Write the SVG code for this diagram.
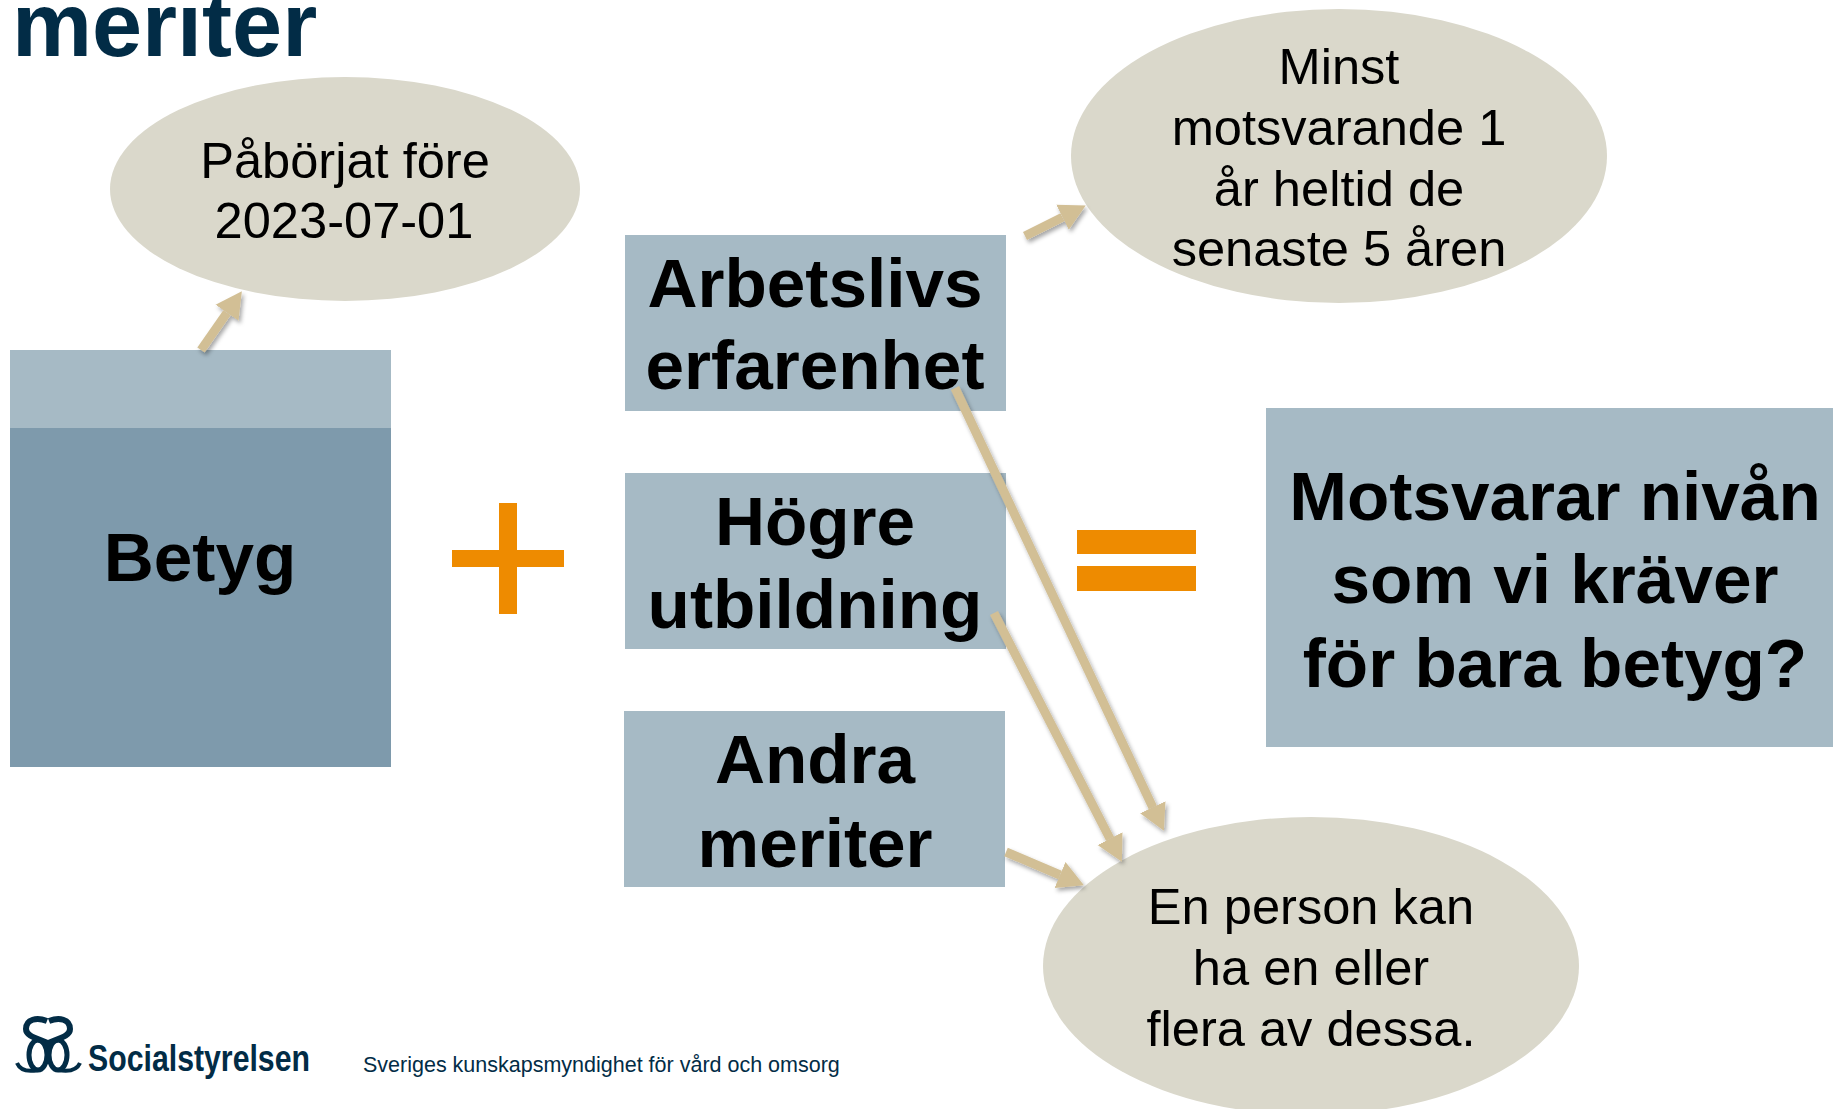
<svg xmlns="http://www.w3.org/2000/svg" width="1833" height="1109" viewBox="0 0 1833 1109">
<defs>
<style>
text{font-family:"Liberation Sans",Arial,sans-serif;text-anchor:middle}
.b{font-weight:700;font-size:69.3px;fill:#000}
.r{font-size:50.6px;fill:#000}
.box{fill:#a6bac5}
.ell{fill:#dad8cb}
.or{fill:#ee8b00}
.arrow{stroke:#d2bf95;stroke-width:9;fill:none;marker-end:url(#head);filter:url(#sh)}
</style>
<marker id="head" markerUnits="userSpaceOnUse" markerWidth="28" markerHeight="30" refX="0" refY="15" orient="auto"><path d="M0 1L26 15L0 29Z" fill="#d2bf95"/></marker>
<filter id="sh" filterUnits="userSpaceOnUse" x="0" y="0" width="1833" height="1109"><feDropShadow dx="2" dy="3" stdDeviation="2" flood-color="#000" flood-opacity=".35"/></filter>
</defs>
<rect width="1833" height="1109" fill="#fff"/>
<text id="title" x="12" y="56" style="text-anchor:start;font-weight:700;font-size:90px;fill:#022c46">meriter</text>
<g id="betyg"><rect class="box" x="10" y="350" width="381" height="78"/><rect x="10" y="428" width="381" height="339" fill="#7e9aac"/><text class="b" x="200" y="581">Betyg</text></g>
<g id="paborjat"><ellipse class="ell" cx="345" cy="189" rx="235" ry="112"/><text class="r" x="345" y="178">Påbörjat före</text><text class="r" x="344" y="238">2023-07-01</text></g>
<g id="minst"><ellipse class="ell" cx="1339" cy="156" rx="268" ry="147"/><text class="r" x="1339" y="84">Minst</text><text class="r" x="1339" y="145">motsvarande 1</text><text class="r" x="1339" y="206">år heltid de</text><text class="r" x="1339" y="266">senaste 5 åren</text></g>
<g id="person"><ellipse class="ell" cx="1311" cy="966" rx="268" ry="149"/><text class="r" x="1311" y="924">En person kan</text><text class="r" x="1311" y="985">ha en eller</text><text class="r" x="1311" y="1046">flera av dessa.</text></g>
<g id="arbetsliv"><rect class="box" x="625" y="235" width="381" height="176"/><text class="b" x="815" y="307">Arbetslivs</text><text class="b" x="815" y="389">erfarenhet</text></g>
<g id="utbildning"><rect class="box" x="625" y="473" width="381" height="176"/><text class="b" x="815" y="545">Högre</text><text class="b" x="815" y="628">utbildning</text></g>
<g id="andra"><rect class="box" x="624" y="711" width="381" height="176"/><text class="b" x="815" y="783">Andra</text><text class="b" x="815" y="867">meriter</text></g>
<g id="motsvarar"><rect class="box" x="1266" y="408" width="567" height="339"/><text class="b" x="1555" y="520">Motsvarar nivån</text><text class="b" x="1555" y="603">som vi kräver</text><text class="b" x="1555" y="687">för bara betyg?</text></g>
<g id="plus"><rect class="or" x="452" y="550" width="112" height="17"/><rect class="or" x="499" y="503" width="18" height="111"/></g>
<g id="equals"><rect class="or" x="1077" y="530" width="119" height="24"/><rect class="or" x="1077" y="566" width="119" height="25"/></g>
<g id="connectors">
<line class="arrow" x1="201" y1="350" x2="227" y2="312.7"/>
<line class="arrow" x1="1025" y1="236" x2="1062.5" y2="217.2"/>
<line class="arrow" x1="955" y1="388" x2="1152.8" y2="807.3"/>
<line class="arrow" x1="994" y1="613" x2="1110" y2="838.7"/>
<line class="arrow" x1="1006" y1="852" x2="1060" y2="875"/>
</g>
<g id="logo">
<g fill="none" stroke="#022c46" stroke-width="5">
<ellipse cx="38" cy="1055" rx="9" ry="15"/>
<ellipse cx="58" cy="1055" rx="9" ry="15"/>
<path d="M47 1021C37 1017 26 1019 26 1029C26 1036 36 1038 50 1044" stroke-width="6"/>
<path d="M49 1021C59 1017 70 1019 70 1029C70 1036 60 1038 46 1044" stroke-width="6"/>
<path d="M17 1063C20 1070 28 1072 38 1070M80 1063C77 1070 69 1072 58 1070" stroke-width="4"/>
</g>
<text x="88" y="1071" fill="#022c46" textLength="222" lengthAdjust="spacingAndGlyphs" style="text-anchor:start;font-weight:700;font-size:37px">Socialstyrelsen</text>
</g>
<text id="tagline" x="363" y="1072" style="text-anchor:start;font-size:21.5px;fill:#022c46">Sveriges kunskapsmyndighet för vård och omsorg</text>
</svg>
